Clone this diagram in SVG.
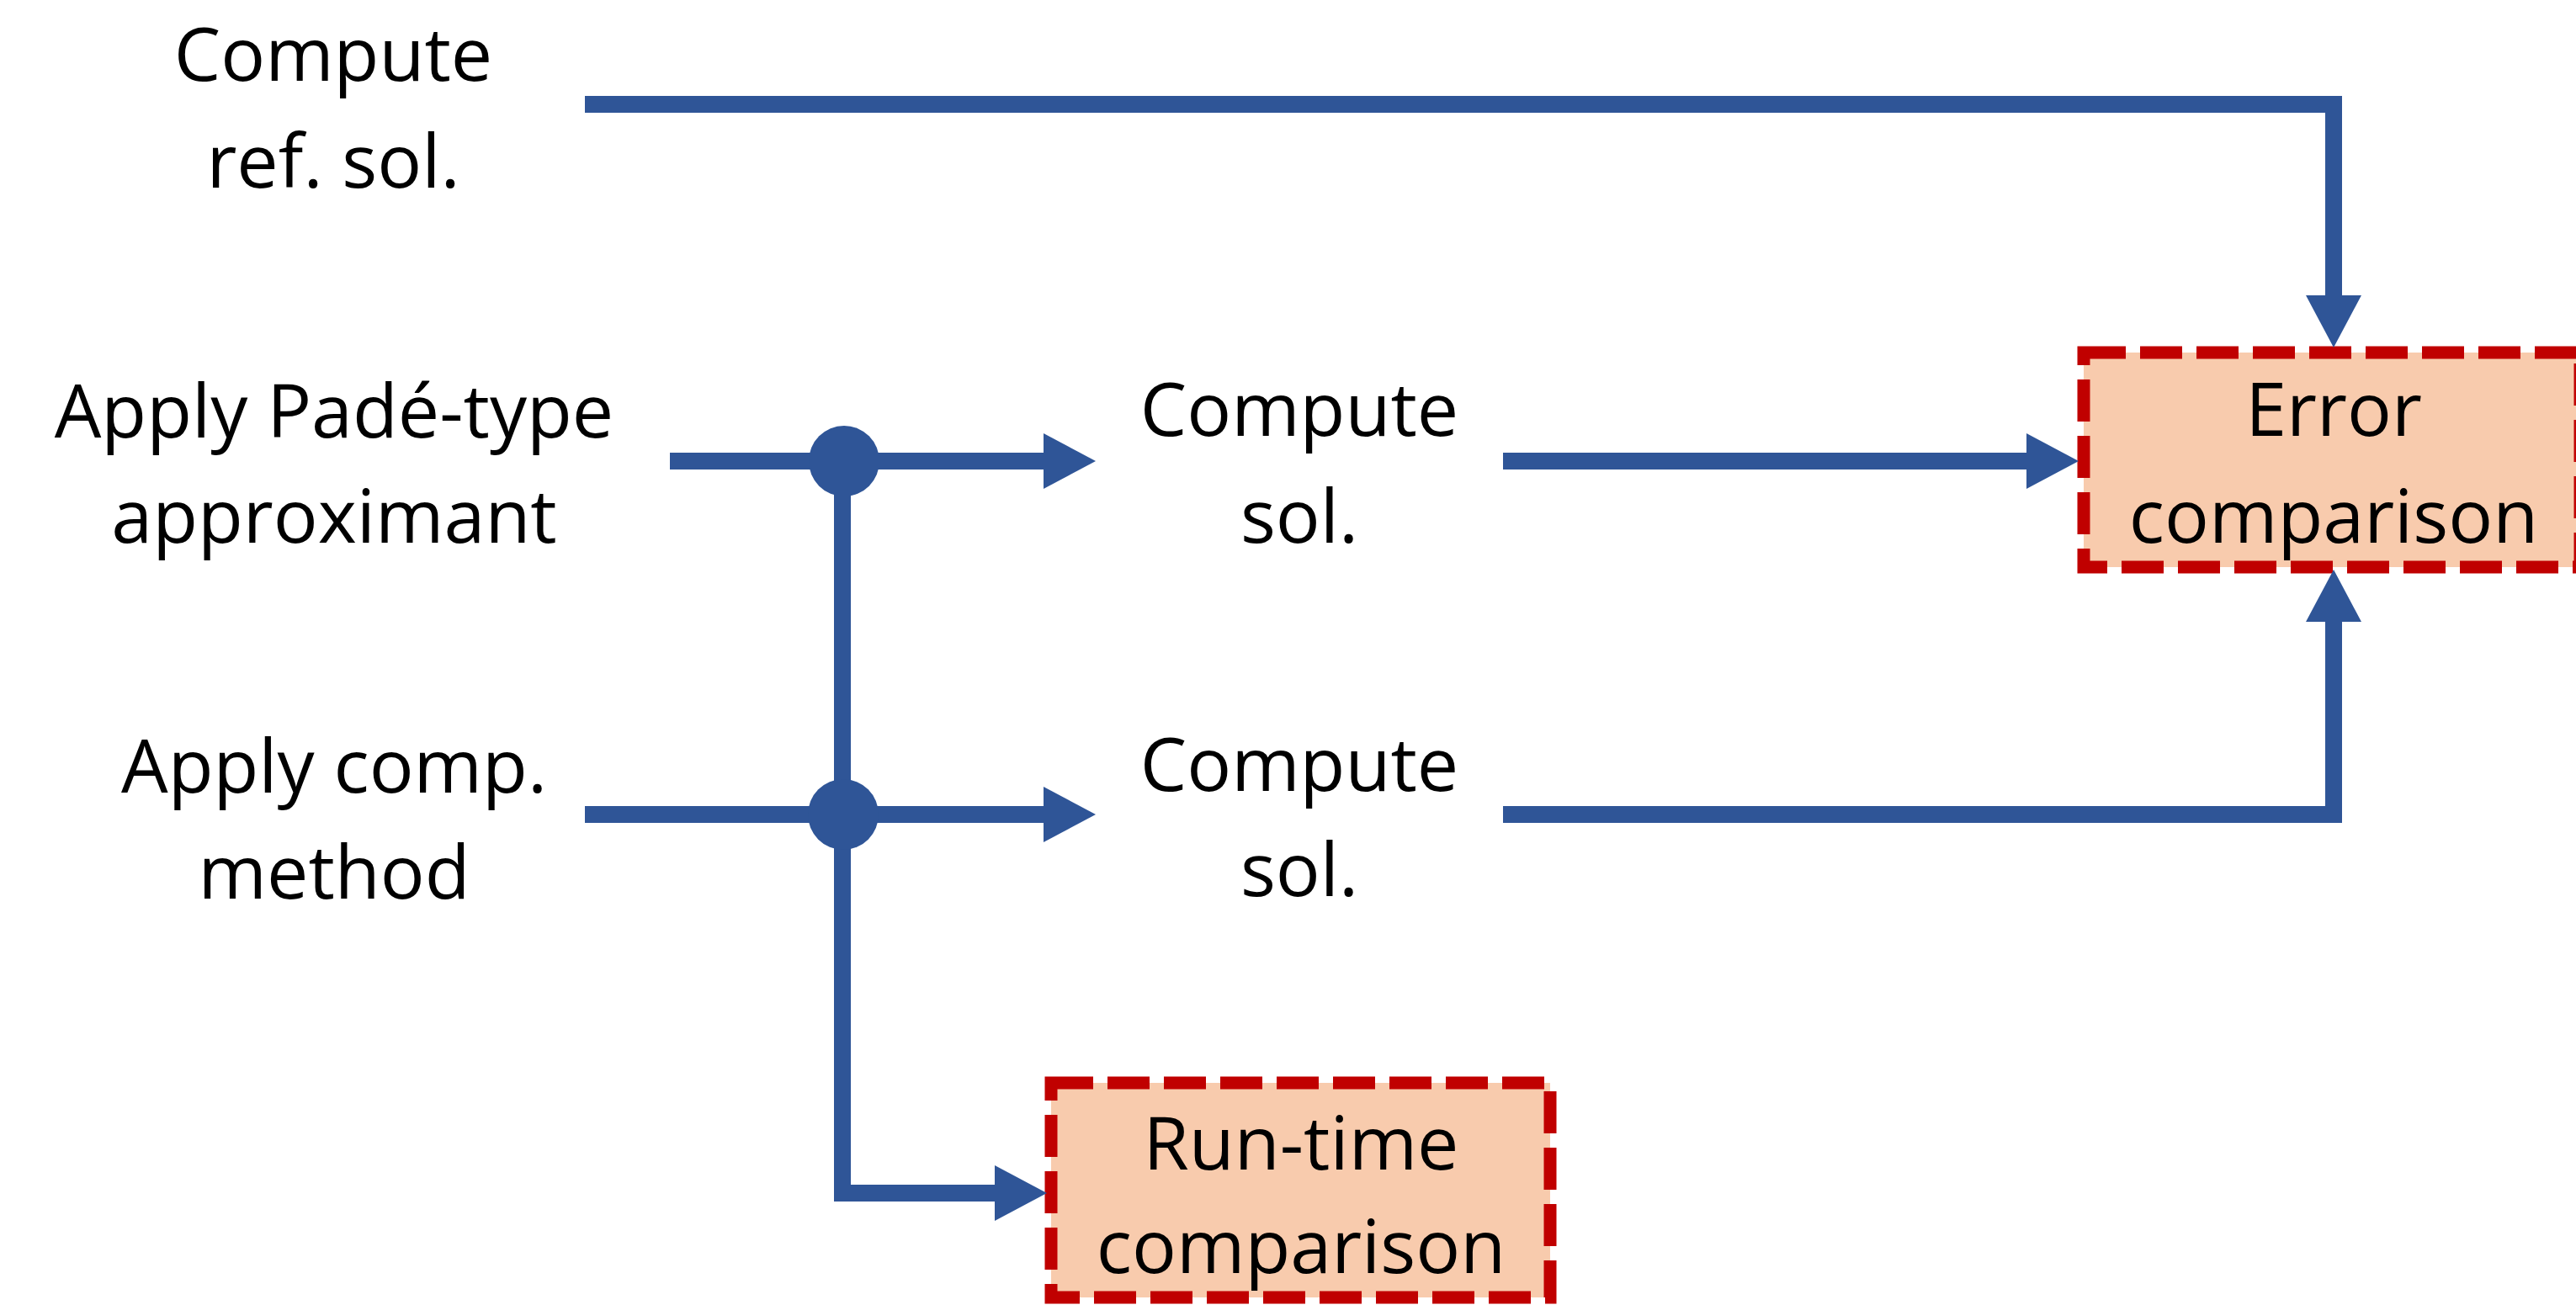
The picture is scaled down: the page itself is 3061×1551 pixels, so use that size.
<svg xmlns="http://www.w3.org/2000/svg" width="3061" height="1551" viewBox="0 0 3061 1551">
<style>
.lbl{font-family:"Open Sans","Liberation Sans",sans-serif;font-size:88px;fill:#000;text-anchor:middle}
.conn{fill:none;stroke:#2F5597;stroke-width:20;stroke-linejoin:miter}
.box{fill:#F8CBAD;stroke:#C00000;stroke-width:15;stroke-dasharray:50 17}
.dot{fill:#2F5597}
</style>
<defs>
<marker id="arr" markerUnits="userSpaceOnUse" viewBox="0 0 62 66" refX="7" refY="33" markerWidth="62" markerHeight="66" orient="auto">
<path d="M0,0 L62,33 L0,66 Z" fill="#2F5597"/>
</marker>
</defs>
<rect width="3061" height="1551" fill="#fff"/>
<g id="node-ref">
<text class="lbl" x="396" y="96">Compute</text>
<text class="lbl" x="396" y="223">ref. sol.</text>
</g>
<g id="node-pade">
<text class="lbl" x="397" y="520">Apply Padé-type</text>
<text class="lbl" x="397" y="645">approximant</text>
</g>
<g id="node-comp">
<text class="lbl" x="397" y="942">Apply comp.</text>
<text class="lbl" x="397" y="1068">method</text>
</g>
<g id="node-sol1">
<text class="lbl" x="1544" y="518">Compute</text>
<text class="lbl" x="1544" y="645">sol.</text>
</g>
<g id="node-sol2">
<text class="lbl" x="1544" y="940">Compute</text>
<text class="lbl" x="1544" y="1065">sol.</text>
</g>
<g id="node-error">
<rect class="box" x="2476" y="419" width="590" height="255"/>
<text class="lbl" x="2773" y="518">Error</text>
<text class="lbl" x="2773" y="645">comparison</text>
</g>
<g id="node-runtime">
<rect class="box" x="1249" y="1287" width="593" height="255"/>
<text class="lbl" x="1546" y="1390">Run-time</text>
<text class="lbl" x="1546" y="1513">comparison</text>
</g>
<g id="connectors">
<path class="conn" d="M695,124 H2773 V358" marker-end="url(#arr)"/>
<path class="conn" d="M796,548 H1247" marker-end="url(#arr)"/>
<path class="conn" d="M1001,548 V1418 H1189" marker-end="url(#arr)"/>
<path class="conn" d="M695,968 H1247" marker-end="url(#arr)"/>
<path class="conn" d="M1786,548 H2415" marker-end="url(#arr)"/>
<path class="conn" d="M1786,968 H2773 V732" marker-end="url(#arr)"/>
<circle class="dot" cx="1003" cy="548" r="42"/>
<circle class="dot" cx="1002" cy="968" r="42"/>
</g>
</svg>
